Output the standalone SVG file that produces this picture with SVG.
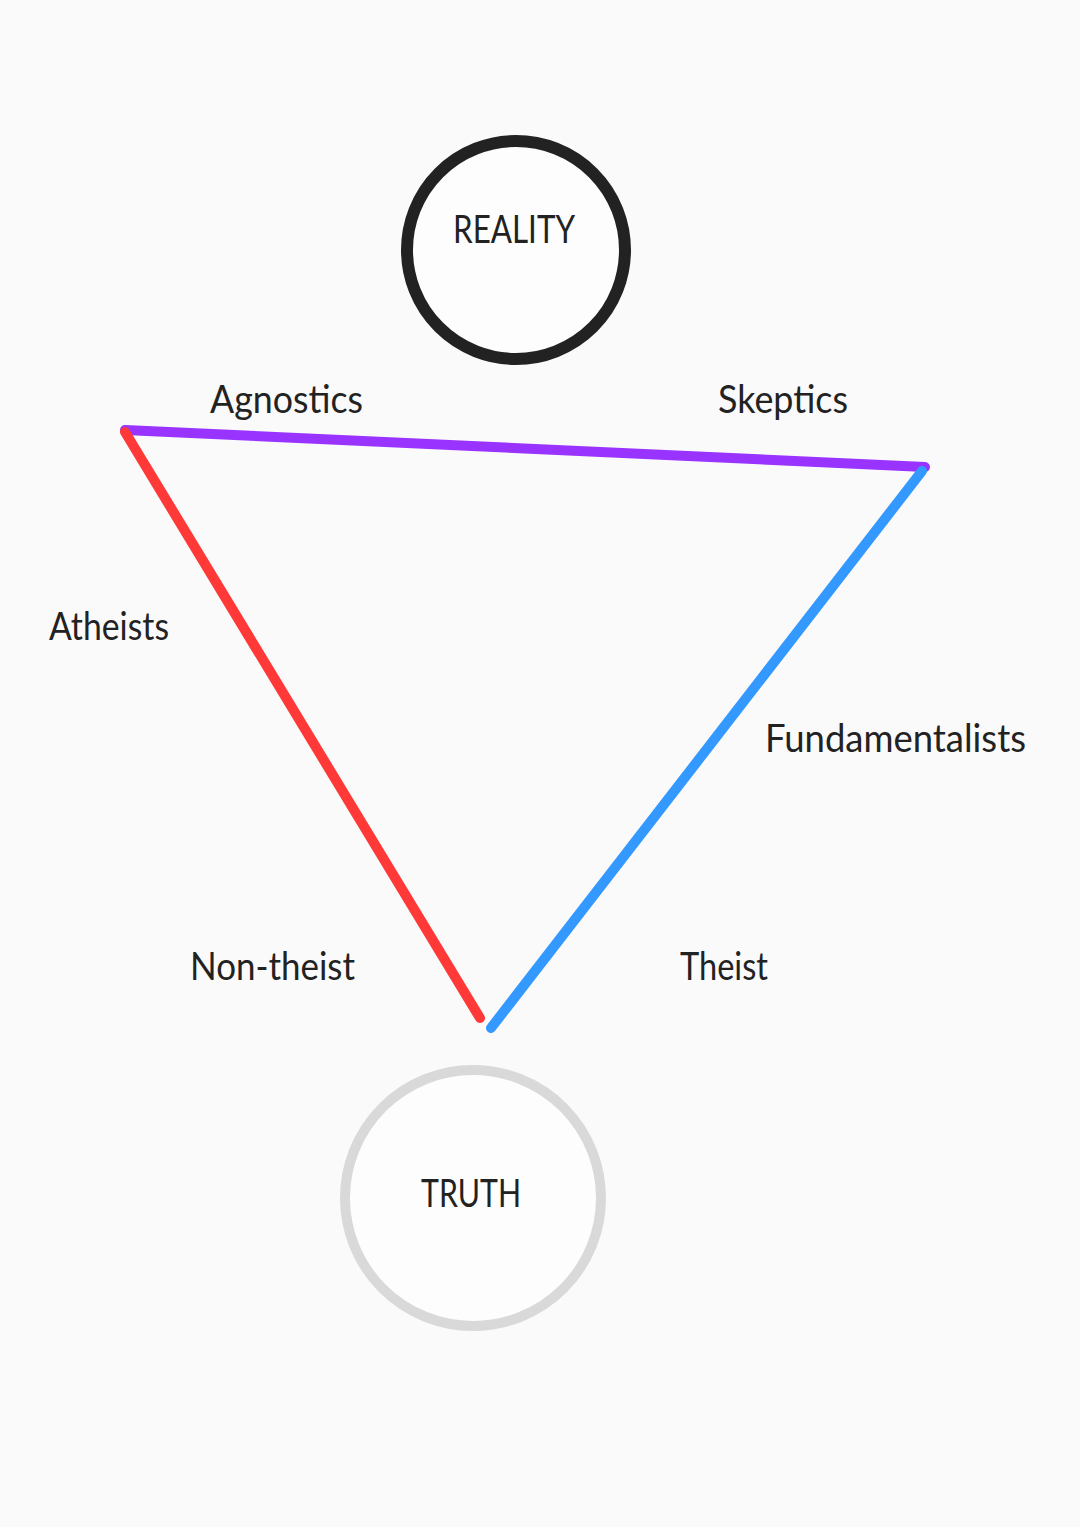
<svg xmlns="http://www.w3.org/2000/svg" width="1080" height="1527" viewBox="0 0 1080 1527">
<style>
text{font-family:"Lato","Open Sans","Liberation Sans",sans-serif;font-size:38px;fill:#222}
.c{text-anchor:middle}
.edge{fill:none;stroke-width:10;stroke-linecap:round}
</style>
<rect width="1080" height="1527" fill="#fafafa"/>
<g id="connectors">
<line class="edge" x1="125" y1="430" x2="925" y2="467" stroke="#9933ff"/>
<line class="edge" x1="125" y1="432" x2="480" y2="1018" stroke="#ff3838"/>
<line class="edge" x1="922" y1="471" x2="491" y2="1028" stroke="#3399ff"/>
</g>
<g id="reality">
<circle cx="516" cy="250" r="109" fill="#fdfdfd" stroke="#222" stroke-width="12"/>
<text class="c" x="514" y="243" textLength="122" lengthAdjust="spacingAndGlyphs">REALITY</text>
</g>
<g id="truth">
<circle cx="473" cy="1198" r="128" fill="#fdfdfd" stroke="#d9d9d9" stroke-width="10"/>
<text class="c" x="471" y="1207" textLength="100" lengthAdjust="spacingAndGlyphs">TRUTH</text>
</g>
<g id="labels">
<text x="210" y="413" textLength="153" lengthAdjust="spacingAndGlyphs">Agnostics</text>
<text x="718" y="413" textLength="130" lengthAdjust="spacingAndGlyphs">Skeptics</text>
<text x="49" y="640" textLength="120" lengthAdjust="spacingAndGlyphs">Atheists</text>
<text x="765" y="752" textLength="261" lengthAdjust="spacingAndGlyphs">Fundamentalists</text>
<text x="190" y="980" textLength="165" lengthAdjust="spacingAndGlyphs">Non-theist</text>
<text x="680" y="980" textLength="88" lengthAdjust="spacingAndGlyphs">Theist</text>
</g>
</svg>
